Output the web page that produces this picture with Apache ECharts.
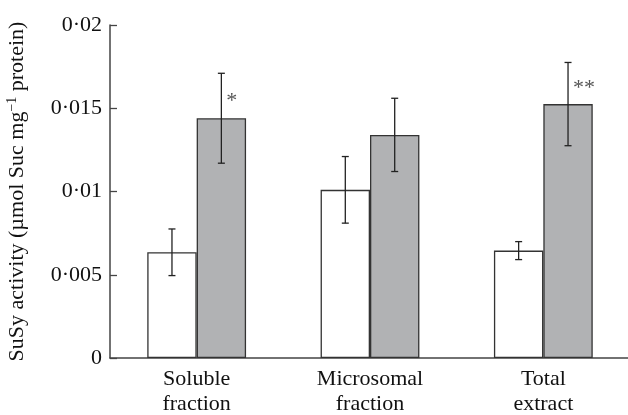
<!DOCTYPE html>
<html>
<head>
<meta charset="utf-8">
<script src="https://cdn.jsdelivr.net/npm/echarts@6/dist/echarts.min.js"></script>
<style>
  html, body { margin: 0; padding: 0; background: #fff; }
  #chart { width: 628px; height: 415px; }
</style>
</head>
<body>
<div id="chart"></div>
<script>
  // data
  var categories = ['Soluble\nfraction', 'Microsomal\nfraction', 'Total\nextract'];
  var controlMean = [0.00635, 0.0101, 0.00645];
  var controlErr = [0.0014, 0.002, 0.00054];
  var treatedMean = [0.0144, 0.0134, 0.01525];
  var treatedErr = [0.0027, 0.0022, 0.0025];
  var stars = ['*', '', '**'];
  var yTicks = [0, 0.005, 0.01, 0.015, 0.02];

  var GAP = 0.43; // barCategoryGap as fraction

  function errorSeries(means, errs, side, marks) {
    var data = means.map(function (m, i) { return [i, m, errs[i]]; });
    return {
      type: 'custom',
      z: 10,
      silent: true,
      data: data,
      renderItem: function (params, api) {
        var i = api.value(0), m = api.value(1), e = api.value(2);
        var band = api.size([1, 0])[0];
        var bw = band * (1 - GAP) / 2;
        var c = api.coord([i, m]);
        var x = c[0] + side * bw / 2;
        var top = api.coord([i, m + e])[1];
        var bot = api.coord([i, m - e])[1];
        var cap = 3.5;
        var st = { stroke: '#222', lineWidth: 1.3 };
        var children = [
          { type: 'line', shape: { x1: x, y1: top, x2: x, y2: bot }, style: st },
          { type: 'line', shape: { x1: x - cap, y1: top, x2: x + cap, y2: top }, style: st },
          { type: 'line', shape: { x1: x - cap, y1: bot, x2: x + cap, y2: bot }, style: st }
        ];
        var mk = marks ? marks[params.dataIndex] : '';
        if (mk) {
          children.push({
            type: 'text',
            style: {
              x: x + 5, y: (top + c[1]) / 2 + 5,
              text: mk, fill: '#555', font: '22px "Liberation Serif"',
              align: 'left', verticalAlign: 'middle'
            }
          });
        }
        return { type: 'group', children: children };
      }
    };
  }

  function fmt(v) {
    return String(v).replace('.', '\u00b7');
  }

  var chart = echarts.init(document.getElementById('chart'));
  chart.setOption({
    animation: false,
    textStyle: { fontFamily: 'Liberation Serif' },
    grid: { left: 110, width: 520, top: 25, bottom: 57, containLabel: false, outerBoundsMode: 'none' },
    xAxis: {
      type: 'category',
      data: categories,
      axisLine: { lineStyle: { color: '#444', width: 1.5 } },
      axisTick: { inside: true, length: 5, lineStyle: { color: '#444', width: 1.3 } },
      axisLabel: { color: '#111', fontSize: 22, lineHeight: 25, margin: 9, fontFamily: 'Liberation Serif' }
    },
    yAxis: {
      type: 'value',
      min: 0,
      max: 0.02,
      interval: 0.005,
      splitLine: { show: false },
      axisLine: { show: true, lineStyle: { color: '#444', width: 1.5 } },
      axisTick: { show: true, inside: true, length: 7, lineStyle: { color: '#444', width: 1.3 } },
      axisLabel: {
        color: '#111', fontSize: 22, margin: 8, fontFamily: 'Liberation Serif',
        formatter: function (v) {
          return yTicks.indexOf(v) >= 0 ? fmt(v) : '';
        }
      },
      name: '{a|SuSy activity (\u00b5mol Suc mg}{s|\u22121}{a| protein)}',
      nameLocation: 'middle',
      nameGap: 80,
      nameTextStyle: {
        fontFamily: 'Liberation Serif',
        rich: {
          a: { fontSize: 22, color: '#111', fontFamily: 'Liberation Serif' },
          s: { fontSize: 14, color: '#111', fontFamily: 'Liberation Serif', padding: [0, 0, 11, 0] }
        }
      }
    },
    series: [
      {
        type: 'bar',
        data: controlMean,
        barGap: '0%',
        barCategoryGap: (GAP * 100) + '%',
        itemStyle: { color: '#ffffff', borderColor: '#333', borderWidth: 1.3 }
      },
      {
        type: 'bar',
        data: treatedMean,
        barGap: '0%',
        barCategoryGap: (GAP * 100) + '%',
        itemStyle: { color: '#b1b2b4', borderColor: '#333', borderWidth: 1.3 }
      },
      errorSeries(controlMean, controlErr, -1, null),
      errorSeries(treatedMean, treatedErr, 1, stars)
    ]
  });
</script>
</body>
</html>
